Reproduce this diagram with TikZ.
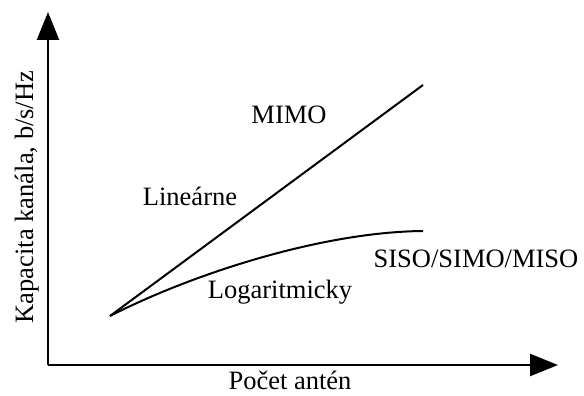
\documentclass[tikz,border=0pt]{standalone}
\usepackage{fontspec}
\setmainfont{Liberation Serif}
\usetikzlibrary{arrows.meta}
\begin{document}
\begin{tikzpicture}[x=1pt,y=-1pt,
  axis/.style={line width=2.4pt,-{Triangle[length=28pt,width=22pt]}},
  curve/.style={line width=2pt},
  lbl/.style={font=\fontsize{26.5}{30}\selectfont,anchor=base,inner sep=0pt}]
\useasboundingbox (0,0) rectangle (584,396);
% axes
\coordinate (o) at (48,365);
\coordinate (ytip) at (48,12);
\coordinate (xtip) at (558,365);
\draw[axis] (o) -- (ytip);
\draw[axis] (o) -- (xtip);
% capacity curves
\coordinate (s) at (110,316);
\coordinate (lin) at (423,85);
\coordinate (log) at (423,231);
\draw[curve] (s) -- (lin);
\draw[curve] (s) .. controls (190,275) and (320,232) .. (log);
% labels
\node[lbl] (mimo) at (289,123) {MIMO};
\node[lbl] (linear) at (190,205) {Lineárne};
\node[lbl] (logl) at (280,298) {Logaritmicky};
\node[lbl] (siso) at (476,267) {SISO/SIMO/MISO};
\node[lbl] (xl) at (290,389) {Počet antén};
\node[lbl,rotate=90] (yl) at (33,197) {Kapacita kanála, b/s/Hz};
\end{tikzpicture}
\end{document}
